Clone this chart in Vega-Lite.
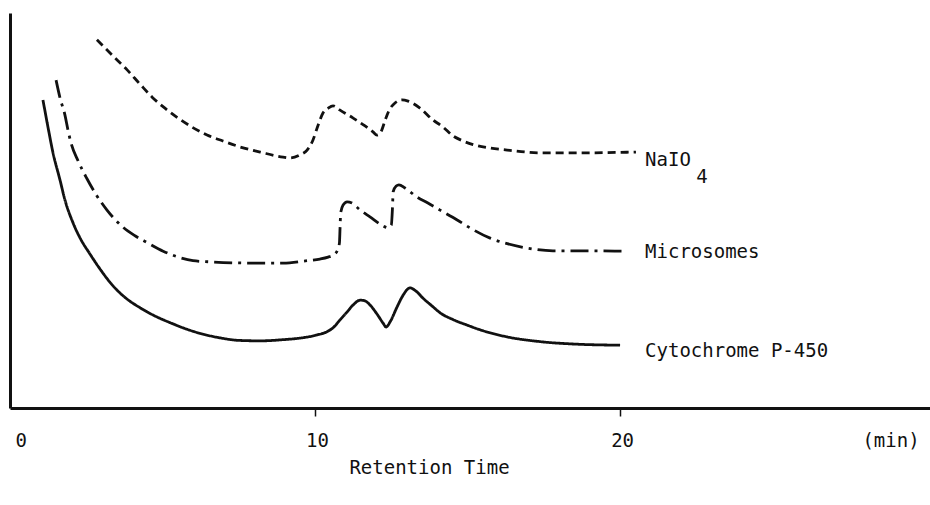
{
  "$schema": "https://vega.github.io/schema/vega-lite/v6.json",
  "autosize": "none",
  "width": 920,
  "height": 395,
  "padding": {"left": 10, "top": 13, "right": 0, "bottom": 97},
  "background": "white",
  "config": {
    "view": {"stroke": null},
    "font": "DejaVu Sans Mono"
  },
  "datasets": {
    "curves": [
      {"series": "Cytochrome P-450", "t": 1.08, "v": 78.0},
      {"series": "Cytochrome P-450", "t": 1.25, "v": 70.9},
      {"series": "Cytochrome P-450", "t": 1.41, "v": 64.6},
      {"series": "Cytochrome P-450", "t": 1.64, "v": 57.7},
      {"series": "Cytochrome P-450", "t": 1.80, "v": 52.7},
      {"series": "Cytochrome P-450", "t": 2.07, "v": 46.8},
      {"series": "Cytochrome P-450", "t": 2.30, "v": 43.0},
      {"series": "Cytochrome P-450", "t": 2.62, "v": 39.0},
      {"series": "Cytochrome P-450", "t": 2.95, "v": 35.2},
      {"series": "Cytochrome P-450", "t": 3.38, "v": 30.9},
      {"series": "Cytochrome P-450", "t": 3.77, "v": 28.0},
      {"series": "Cytochrome P-450", "t": 4.26, "v": 25.4},
      {"series": "Cytochrome P-450", "t": 4.75, "v": 23.3},
      {"series": "Cytochrome P-450", "t": 5.25, "v": 21.6},
      {"series": "Cytochrome P-450", "t": 5.67, "v": 20.3},
      {"series": "Cytochrome P-450", "t": 6.23, "v": 18.9},
      {"series": "Cytochrome P-450", "t": 6.79, "v": 17.9},
      {"series": "Cytochrome P-450", "t": 7.54, "v": 17.1},
      {"series": "Cytochrome P-450", "t": 8.20, "v": 17.0},
      {"series": "Cytochrome P-450", "t": 8.95, "v": 17.3},
      {"series": "Cytochrome P-450", "t": 9.51, "v": 17.7},
      {"series": "Cytochrome P-450", "t": 10.07, "v": 18.5},
      {"series": "Cytochrome P-450", "t": 10.36, "v": 19.2},
      {"series": "Cytochrome P-450", "t": 10.59, "v": 20.3},
      {"series": "Cytochrome P-450", "t": 10.82, "v": 22.3},
      {"series": "Cytochrome P-450", "t": 11.05, "v": 24.3},
      {"series": "Cytochrome P-450", "t": 11.25, "v": 26.1},
      {"series": "Cytochrome P-450", "t": 11.48, "v": 27.3},
      {"series": "Cytochrome P-450", "t": 11.64, "v": 27.1},
      {"series": "Cytochrome P-450", "t": 11.80, "v": 26.1},
      {"series": "Cytochrome P-450", "t": 12.03, "v": 23.8},
      {"series": "Cytochrome P-450", "t": 12.23, "v": 21.5},
      {"series": "Cytochrome P-450", "t": 12.33, "v": 20.5},
      {"series": "Cytochrome P-450", "t": 12.46, "v": 21.8},
      {"series": "Cytochrome P-450", "t": 12.69, "v": 25.6},
      {"series": "Cytochrome P-450", "t": 12.89, "v": 28.6},
      {"series": "Cytochrome P-450", "t": 13.11, "v": 30.4},
      {"series": "Cytochrome P-450", "t": 13.31, "v": 29.6},
      {"series": "Cytochrome P-450", "t": 13.54, "v": 27.8},
      {"series": "Cytochrome P-450", "t": 13.84, "v": 25.8},
      {"series": "Cytochrome P-450", "t": 14.10, "v": 24.1},
      {"series": "Cytochrome P-450", "t": 14.52, "v": 22.4},
      {"series": "Cytochrome P-450", "t": 14.98, "v": 21.0},
      {"series": "Cytochrome P-450", "t": 15.41, "v": 19.8},
      {"series": "Cytochrome P-450", "t": 16.30, "v": 18.0},
      {"series": "Cytochrome P-450", "t": 17.38, "v": 16.8},
      {"series": "Cytochrome P-450", "t": 18.46, "v": 16.2},
      {"series": "Cytochrome P-450", "t": 20.0, "v": 15.9},

      {"series": "NaIO4", "t": 2.85, "v": 93.2},
      {"series": "NaIO4", "t": 3.34, "v": 89.4},
      {"series": "NaIO4", "t": 3.84, "v": 85.6},
      {"series": "NaIO4", "t": 4.26, "v": 82.0},
      {"series": "NaIO4", "t": 4.66, "v": 78.7},
      {"series": "NaIO4", "t": 5.08, "v": 75.9},
      {"series": "NaIO4", "t": 5.51, "v": 73.4},
      {"series": "NaIO4", "t": 5.97, "v": 71.1},
      {"series": "NaIO4", "t": 6.46, "v": 69.1},
      {"series": "NaIO4", "t": 6.98, "v": 67.6},
      {"series": "NaIO4", "t": 7.54, "v": 66.1},
      {"series": "NaIO4", "t": 8.20, "v": 64.8},
      {"series": "NaIO4", "t": 8.95, "v": 63.5},
      {"series": "NaIO4", "t": 9.18, "v": 63.3},
      {"series": "NaIO4", "t": 9.51, "v": 64.1},
      {"series": "NaIO4", "t": 9.74, "v": 65.3},
      {"series": "NaIO4", "t": 9.93, "v": 67.8},
      {"series": "NaIO4", "t": 10.10, "v": 71.6},
      {"series": "NaIO4", "t": 10.26, "v": 74.7},
      {"series": "NaIO4", "t": 10.43, "v": 75.9},
      {"series": "NaIO4", "t": 10.59, "v": 76.5},
      {"series": "NaIO4", "t": 10.82, "v": 75.4},
      {"series": "NaIO4", "t": 11.25, "v": 73.4},
      {"series": "NaIO4", "t": 11.64, "v": 71.4},
      {"series": "NaIO4", "t": 11.90, "v": 69.9},
      {"series": "NaIO4", "t": 12.03, "v": 69.1},
      {"series": "NaIO4", "t": 12.16, "v": 69.9},
      {"series": "NaIO4", "t": 12.30, "v": 72.9},
      {"series": "NaIO4", "t": 12.43, "v": 75.4},
      {"series": "NaIO4", "t": 12.62, "v": 77.2},
      {"series": "NaIO4", "t": 12.85, "v": 78.0},
      {"series": "NaIO4", "t": 13.05, "v": 77.7},
      {"series": "NaIO4", "t": 13.44, "v": 75.9},
      {"series": "NaIO4", "t": 13.87, "v": 72.9},
      {"series": "NaIO4", "t": 14.20, "v": 71.1},
      {"series": "NaIO4", "t": 14.52, "v": 68.9},
      {"series": "NaIO4", "t": 14.82, "v": 67.7},
      {"series": "NaIO4", "t": 15.18, "v": 66.7},
      {"series": "NaIO4", "t": 15.74, "v": 65.8},
      {"series": "NaIO4", "t": 16.30, "v": 65.3},
      {"series": "NaIO4", "t": 17.38, "v": 64.6},
      {"series": "NaIO4", "t": 18.79, "v": 64.6},
      {"series": "NaIO4", "t": 20.52, "v": 64.8},

      {"series": "Microsomes", "t": 1.51, "v": 83.0},
      {"series": "Microsomes", "t": 1.64, "v": 78.5},
      {"series": "Microsomes", "t": 1.80, "v": 74.2},
      {"series": "Microsomes", "t": 1.90, "v": 70.4},
      {"series": "Microsomes", "t": 2.00, "v": 67.1},
      {"series": "Microsomes", "t": 2.23, "v": 62.6},
      {"series": "Microsomes", "t": 2.52, "v": 58.1},
      {"series": "Microsomes", "t": 2.85, "v": 53.7},
      {"series": "Microsomes", "t": 3.18, "v": 50.1},
      {"series": "Microsomes", "t": 3.70, "v": 45.8},
      {"series": "Microsomes", "t": 4.10, "v": 43.6},
      {"series": "Microsomes", "t": 4.49, "v": 41.9},
      {"series": "Microsomes", "t": 5.02, "v": 39.7},
      {"series": "Microsomes", "t": 5.48, "v": 38.3},
      {"series": "Microsomes", "t": 6.00, "v": 37.3},
      {"series": "Microsomes", "t": 6.56, "v": 37.0},
      {"series": "Microsomes", "t": 7.87, "v": 36.7},
      {"series": "Microsomes", "t": 8.95, "v": 36.7},
      {"series": "Microsomes", "t": 9.74, "v": 37.3},
      {"series": "Microsomes", "t": 10.16, "v": 37.7},
      {"series": "Microsomes", "t": 10.43, "v": 38.2},
      {"series": "Microsomes", "t": 10.59, "v": 38.7},
      {"series": "Microsomes", "t": 10.74, "v": 40.0},
      {"series": "Microsomes", "t": 10.80, "v": 41.8},
      {"series": "Microsomes", "t": 10.82, "v": 45.6},
      {"series": "Microsomes", "t": 10.84, "v": 49.4},
      {"series": "Microsomes", "t": 10.92, "v": 51.4},
      {"series": "Microsomes", "t": 11.05, "v": 52.2},
      {"series": "Microsomes", "t": 11.21, "v": 51.9},
      {"series": "Microsomes", "t": 11.48, "v": 50.1},
      {"series": "Microsomes", "t": 11.80, "v": 48.4},
      {"series": "Microsomes", "t": 12.23, "v": 46.1},
      {"series": "Microsomes", "t": 12.39, "v": 45.6},
      {"series": "Microsomes", "t": 12.50, "v": 46.3},
      {"series": "Microsomes", "t": 12.54, "v": 50.9},
      {"series": "Microsomes", "t": 12.56, "v": 54.7},
      {"series": "Microsomes", "t": 12.66, "v": 56.2},
      {"series": "Microsomes", "t": 12.75, "v": 56.5},
      {"series": "Microsomes", "t": 12.95, "v": 55.7},
      {"series": "Microsomes", "t": 13.34, "v": 53.4},
      {"series": "Microsomes", "t": 13.70, "v": 51.9},
      {"series": "Microsomes", "t": 14.10, "v": 50.1},
      {"series": "Microsomes", "t": 14.66, "v": 47.6},
      {"series": "Microsomes", "t": 15.08, "v": 45.6},
      {"series": "Microsomes", "t": 15.74, "v": 43.0},
      {"series": "Microsomes", "t": 16.30, "v": 41.6},
      {"series": "Microsomes", "t": 16.95, "v": 40.5},
      {"series": "Microsomes", "t": 17.80, "v": 39.8},
      {"series": "Microsomes", "t": 18.69, "v": 39.8},
      {"series": "Microsomes", "t": 20.23, "v": 39.7}
    ],
    "labels": [
      {"text": "NaIO", "t": 20.82, "v": 62.8},
      {"text": "4", "t": 22.5, "v": 58.5},
      {"text": "Microsomes", "t": 20.82, "v": 39.5},
      {"text": "Cytochrome P-450", "t": 20.82, "v": 14.4}
    ]
  },
  "layer": [
    {
      "data": {"name": "curves"},
      "mark": {"type": "line", "strokeWidth": 2.8, "interpolate": "monotone", "strokeCap": "butt", "clip": false},
      "encoding": {
        "x": {
          "field": "t", "type": "quantitative",
          "scale": {"domain": [0, 30.16], "nice": false, "zero": false},
          "axis": {
            "values": [0, 10, 20, 28.8],
            "labelExpr": "datum.value > 25 ? '(min)' : datum.label",
            "title": "Retention Time",
            "titleFont": "DejaVu Sans Mono",
            "titleFontSize": 19,
            "titleFontWeight": "normal",
            "titleColor": "#111",
            "titleX": 419,
            "titleY": 59,
            "titleBaseline": "middle",
            "titleAlign": "center",
            "labelFont": "DejaVu Sans Mono",
            "labelFontSize": 19,
            "labelColor": "#111",
            "labelBaseline": "middle",
            "labelPadding": 24,
            "labelOffset": {"condition": {"test": "datum.value == 0", "value": 5}, "value": 2},
            "grid": false,
            "domainColor": "#111",
            "domainWidth": 3,
            "tickColor": "#111",
            "tickWidth": 1.5,
            "tickSize": 8,
            "tickOpacity": {"condition": {"test": "datum.value == 0 || datum.value > 25", "value": 0}, "value": 1}
          }
        },
        "y": {
          "field": "v", "type": "quantitative",
          "scale": {"domain": [0, 100], "nice": false},
          "axis": {
            "title": null, "labels": false, "ticks": false, "grid": false,
            "domainColor": "#111", "domainWidth": 3
          }
        },
        "detail": {"field": "series"},
        "color": {"value": "#111"},
        "strokeDash": {
          "field": "series", "type": "nominal",
          "scale": {
            "domain": ["Cytochrome P-450", "NaIO4", "Microsomes"],
            "range": [[1, 0], [8, 5], [18, 6, 3, 6]]
          },
          "legend": null
        }
      }
    },
    {
      "data": {"name": "labels"},
      "mark": {"type": "text", "font": "DejaVu Sans Mono", "fontSize": 19, "align": "left", "baseline": "middle", "color": "#111"},
      "encoding": {
        "x": {"field": "t", "type": "quantitative"},
        "y": {"field": "v", "type": "quantitative"},
        "text": {"field": "text"}
      }
    }
  ]
}
